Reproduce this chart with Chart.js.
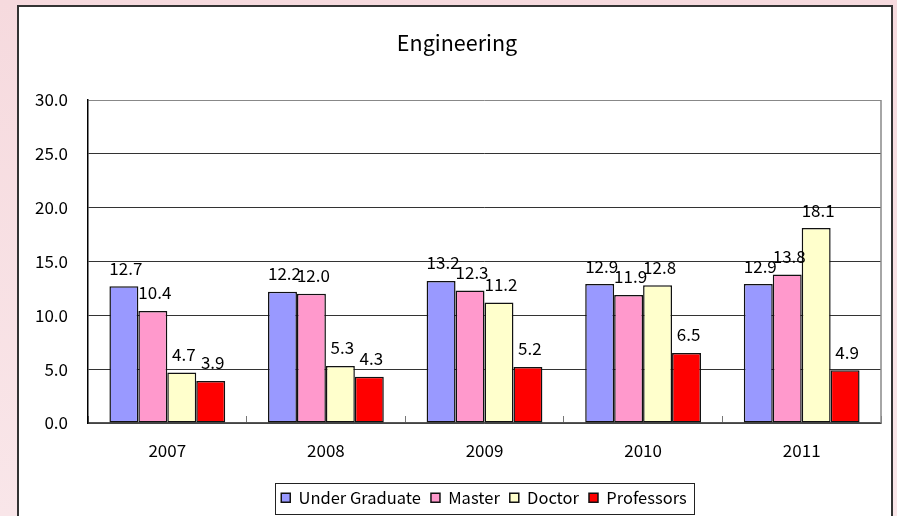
<!DOCTYPE html>
<html>
<head>
<meta charset="utf-8">
<script src="https://cdn.jsdelivr.net/npm/chart.js@4.4.1/dist/chart.umd.min.js"></script>
<style>
  html, body { margin: 0; padding: 0; }
  body { width: 897px; height: 516px; overflow: hidden; position: relative;
         background: linear-gradient(to bottom, #f6dade 0%, #f9e6e9 100%); }
  #box { position: absolute; left: 17px; top: 5px; width: 876px; height: 520px;
         background: #fff; border: 2px solid #333; box-sizing: border-box; }
  #wrap { position: absolute; left: 0; top: 0; width: 897px; height: 516px; }
</style>
</head>
<body>
<div id="box"></div>
<div id="wrap"><canvas id="c" width="897" height="516"></canvas></div>
<script>
const categories = ['2007', '2008', '2009', '2010', '2011'];
const underGraduate = [12.7, 12.2, 13.2, 12.9, 12.9];
const master = [10.4, 12.0, 12.3, 11.9, 13.8];
const doctor = [4.7, 5.3, 11.2, 12.8, 18.1];
const professors = [3.9, 4.3, 5.2, 6.5, 4.9];
const yTickLabels = ['0.0', '5.0', '10.0', '15.0', '20.0', '25.0', '30.0'];
const chartTitle = 'Engineering';

const FONT = '"Noto Sans CJK JP", "Noto Sans", sans-serif';

const valueLabels = {
  id: 'valueLabels',
  afterDatasetsDraw(chart) {
    const ctx = chart.ctx;
    ctx.save();
    ctx.font = '17px ' + FONT;
    ctx.fillStyle = '#000';
    ctx.textAlign = 'center';
    ctx.textBaseline = 'middle';
    chart.data.datasets.forEach((ds, di) => {
      const meta = chart.getDatasetMeta(di);
      meta.data.forEach((el, i) => {
        ctx.fillText(ds.data[i].toFixed(1), el.x + 2, el.y - 18);
      });
    });
    ctx.restore();
  }
};

const shifter = {
  id: 'shifter',
  afterLayout(chart) {
    const t = chart.titleBlock;
    if (t) { const dx = 457 - (t.left + t.right) / 2; t.left += dx; t.right += dx; }
    const lg = chart.legend;
    if (lg) { const dx = 484 - (lg.left + lg.right) / 2; lg.left += dx; lg.right += dx; }
  }
};

const frame = {
  id: 'frame',
  afterDraw(chart) {
    const ctx = chart.ctx;
    const a = chart.chartArea;
    ctx.save();
    ctx.strokeStyle = '#888';
    ctx.lineWidth = 1.5;
    ctx.beginPath();
    ctx.moveTo(a.right, a.top);
    ctx.lineTo(a.right, a.bottom);
    ctx.stroke();
    const lg = chart.legend;
    const hb = lg.legendHitBoxes;
    if (hb && hb.length) {
      const first = hb[0], last = hb[hb.length - 1];
      const l = first.left - 6;
      const r = last.left + last.width + 8;
      const t = first.top - 7;
      const b = first.top + first.height + 7;
      ctx.strokeStyle = '#222';
      ctx.lineWidth = 1;
      ctx.strokeRect(Math.round(l) + 0.5, Math.round(t) + 0.5, Math.round(r - l), Math.round(b - t));
    }
    ctx.restore();
  }
};

new Chart(document.getElementById('c'), {
  type: 'bar',
  data: {
    labels: categories,
    datasets: [
      { label: 'Under Graduate', data: underGraduate, backgroundColor: '#9999FF' },
      { label: 'Master', data: master, backgroundColor: '#FF99CC' },
      { label: 'Doctor', data: doctor, backgroundColor: '#FFFFCC' },
      { label: 'Professors', data: professors, backgroundColor: '#FF0000' }
    ].map(d => Object.assign(d, { borderColor: '#111', borderWidth: 1.5,
      barPercentage: 1.0, categoryPercentage: 0.73, borderSkipped: false }))
  },
  options: {
    responsive: false,
    animation: false,
    events: [],
    layout: { padding: { left: 0, right: 16, top: 0, bottom: 0 } },
    plugins: {
      title: {
        display: true, text: chartTitle, color: '#000',
        font: { family: FONT, size: 21.5, weight: 'normal', lineHeight: 1.2 },
        padding: { top: 30, bottom: 44.2 }
      },
      legend: {
        position: 'bottom',
        labels: {
          color: '#000', boxWidth: 9, boxHeight: 9, padding: 10,
          font: { family: FONT, size: 16.5 }
        }
      },
      tooltip: { enabled: false }
    },
    scales: {
      x: {
        grid: { display: true, drawOnChartArea: false, drawTicks: true, tickLength: -7,
                color: '#777', offset: true },
        border: { color: '#555', width: 1.5 },
        ticks: { color: '#000', font: { family: FONT, size: 17 }, padding: 24 },
        afterFit(s) { s.height = 56.5; }
      },
      y: {
        min: 0, max: 30,
        grid: { drawTicks: false, color: (c) => (c.tick && c.tick.value === 30) ? '#888' : '#333', lineWidth: 1 },
        border: { color: '#000', width: 1.5 },
        ticks: { stepSize: 5, color: '#000', padding: 20,
                 font: { family: FONT, size: 17 },
                 callback: (v) => yTickLabels[Math.round(v / 5)] },
        afterFit(s) { s.width = 88; }
      }
    }
  },
  plugins: [shifter, valueLabels, frame]
});
</script>
</body>
</html>
